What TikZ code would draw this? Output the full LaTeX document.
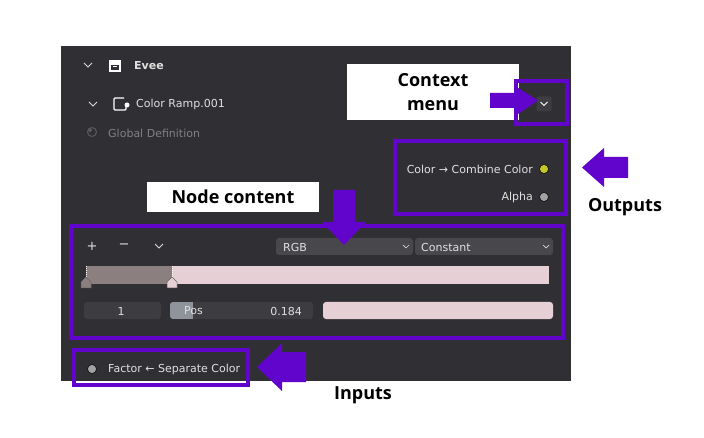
\documentclass[tikz,border=0pt]{standalone}
\usepackage{fontspec}
\setmainfont{DejaVu Sans}
\newfontfamily\lblfont{Open Sans}
\begin{document}
\begin{tikzpicture}[x=1pt,y=-1pt,
  ui/.style={text=white!88!black,font=\fontsize{11}{13}\selectfont,inner sep=0pt},
  lbl/.style={font=\lblfont\bfseries\fontsize{18}{24}\selectfont,inner sep=0pt,align=center},
  hl/.style={draw=purp,line width=3.4pt},
  arr/.style={fill=purp,draw=none},
  sock/.style={circle,draw=black,line width=0.5pt,minimum size=9pt,inner sep=0pt}]
\definecolor{panel}{HTML}{303034}
\definecolor{purp}{HTML}{6205CC}
\definecolor{fieldc}{HTML}{48484C}
\definecolor{fieldd}{HTML}{3D3D41}
\definecolor{pinkc}{HTML}{E6D0D5}
\definecolor{darkr}{HTML}{8C7F80}
\definecolor{slid}{HTML}{8E939C}
\definecolor{sockg}{HTML}{A1A1A1}
\definecolor{socky}{HTML}{C7C729}
\useasboundingbox (0,0) rectangle (704,438);
\fill[white] (0,0) rectangle (704,438);
\fill[panel] (61,46) rectangle (571,381);
% header
\draw[white!85!black,line width=0.8pt] (84,63)--(88,67)--(92,63);
\fill[white] (109,60) rectangle (121,63);
\draw[white,line width=1.3pt] (110,64) rectangle (120,71);
\draw[white,line width=1pt] (113,66.5)--(117,66.5);
\node[ui,anchor=west,font=\bfseries\fontsize{11}{13}\selectfont] (evee) at (134,66) {Evee};
\draw[white!85!black,line width=0.8pt] (89,102)--(93,106)--(97,102);
\draw[white,line width=1.2pt,rounded corners=1pt] (124,98)--(114,98)--(114,110)--(126,110)--(126,104);
\fill[white] (127,105) circle (2.5pt);
\node[ui,anchor=west] (cr) at (136,104) {Color Ramp.001};
\draw[gray!70!black,line width=1pt] (92,132) circle (4.5pt);
\fill[gray!70!black] (90,130) circle (2pt);
\node[ui,anchor=west,text=gray] (gd) at (108,133) {Global Definition};
% context menu
\node[fill=white,minimum width=172pt,minimum height=56pt,inner sep=0pt] (cmb) at (433,92) {};
\node[lbl] (cm) at (433,92) {Context\\menu};
\node[fill=fieldd,rounded corners=2pt,minimum width=15pt,minimum height=15pt] (btn) at (544,104) {};
\draw[white,line width=0.8pt] (540.5,102)--(544,105.5)--(547.5,102);
\draw[hl] (516,81) rectangle (567,124);
\fill[arr] (490,93) -- (515,93) -- (515,86) -- (538,100.5) -- (515,116) -- (515,108) -- (490,108) -- cycle;
% outputs
\node[ui,anchor=east] (oc) at (533,169) {Color → Combine Color};
\node[sock,fill=socky] (s1) at (544,169) {};
\node[ui,anchor=east] (oa) at (533,197) {Alpha};
\node[sock,fill=sockg] (s2) at (544,197) {};
\draw[hl] (395,141) rectangle (566,214);
\fill[arr] (628,157) -- (604,157) -- (604,148) -- (582,167.5) -- (604,187) -- (604,178) -- (628,178) -- cycle;
\node[lbl] (out) at (625,207) {Outputs};
% node content
\node[fill=white,minimum width=172pt,minimum height=30pt,inner sep=0pt] (ncb) at (233,197) {};
\node[lbl] (nc) at (233,197) {Node content};
\node[ui,font=\fontsize{13}{13}\selectfont] (plus) at (92,246) {+};
\node[ui,font=\fontsize{13}{13}\selectfont] (minus) at (124,246) {−};
\draw[white!85!black,line width=0.8pt] (155,244)--(159,248)--(163,244);
\fill[fieldc,rounded corners=3pt] (276,238) rectangle (413,255);
\fill[fieldc,rounded corners=3pt] (415,238) rectangle (553,255);
\node[ui,anchor=west] (rgb) at (283,247) {RGB};
\node[ui,anchor=west] (cst) at (421,247) {Constant};
\draw[white!85!black,line width=0.7pt] (403,245)--(406,248)--(409,245);
\draw[white!85!black,line width=0.7pt] (543,245)--(546,248)--(549,245);
\fill[pinkc] (86,266) rectangle (549,284);
\fill[darkr] (86,266) rectangle (172,284);
\draw[white,dash pattern=on 1pt off 1pt] (86,266)--(86,278) (172,266)--(172,278);
\fill[darkr,draw=black!60,line width=0.5pt] (81,288) -- (81,282) -- (86,277) -- (91,282) -- (91,288) -- cycle;
\fill[pinkc,draw=black!60,line width=0.5pt] (167,288) -- (167,282) -- (172,277) -- (177,282) -- (177,288) -- cycle;
\fill[fieldd,rounded corners=3pt] (84,302) rectangle (161,319);
\node[ui] (one) at (121,311) {1};
\fill[fieldd,rounded corners=3pt] (170,302) rectangle (313,319);
\begin{scope}
\clip[rounded corners=3pt] (170,302) rectangle (313,319);
\fill[slid] (170,302) rectangle (193,319);
\end{scope}
\node[ui,anchor=west] (pos) at (184,311) {Pos};
\node[ui,anchor=east] (val) at (302,311) {0.184};
\fill[pinkc,rounded corners=3pt] (323,302) rectangle (553,319);
\draw[hl] (71,226) rectangle (563,338);
\fill[arr] (333,190) -- (355,190) -- (355,222) -- (366,222) -- (344,245) -- (322,222) -- (333,222) -- cycle;
% inputs
\node[sock,fill=sockg] (s3) at (92,369) {};
\node[ui,anchor=west] (fac) at (108,369) {Factor ← Separate Color};
\draw[white,line width=0.6pt] (78,381)--(245,381);
\draw[hl] (74,350) rectangle (248,385);
\fill[arr] (306,352) -- (282,352) -- (282,343) -- (257,367) -- (282,391) -- (282,382) -- (306,382) -- cycle;
\node[lbl] (inp) at (363,395) {Inputs};
\end{tikzpicture}
\end{document}
